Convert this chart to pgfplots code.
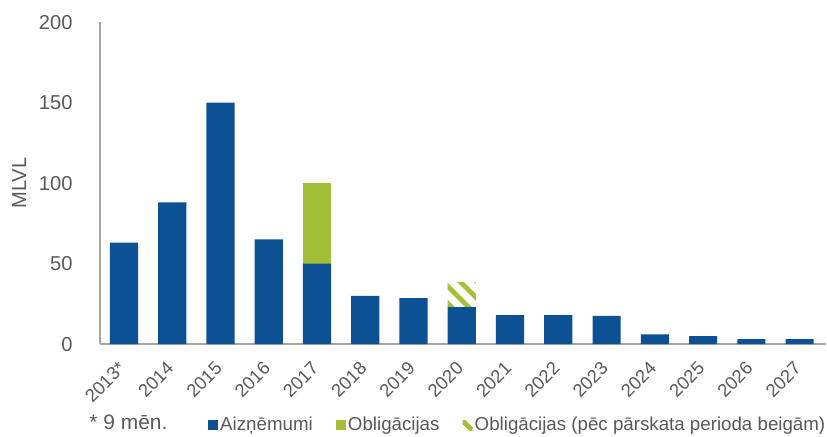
\documentclass[border=0pt]{standalone}
\usepackage{fontspec}
\setmainfont{Liberation Sans}
\usepackage{pgfplots}
\pgfplotsset{compat=1.18}
\usetikzlibrary{patterns.meta}
\definecolor{lblue}{HTML}{0B5194}
\definecolor{lgreen}{HTML}{A3BE37}
\definecolor{txtgray}{HTML}{595959}
\definecolor{axgray}{HTML}{A6A6A6}
\begin{document}
\begin{tikzpicture}[font=\fontsize{10}{12}\selectfont]
\begin{axis}[
  name=ax, clip=false,
  scale only axis, width=361pt, height=160pt,
  ybar stacked, bar width=14pt,
  xmin=-0.5, xmax=14.55, ymin=0, ymax=200,
  axis lines*=left,
  axis line style={axgray, line width=0.8pt},
  ytick={0,50,100,150,200}, xtick={0,...,14},
  xticklabels={2013*,2014,2015,2016,2017,2018,2019,2020,2021,2022,2023,2024,2025,2026,2027},
  tick label style={font=\fontsize{10}{12}\selectfont, text=txtgray},
  x tick label style={rotate=45, anchor=north east, inner sep=1pt, xshift=-6.9pt, yshift=-2.3pt,
    font=\fontsize{9.1}{11}\selectfont},
  y tick label style={xshift=-10pt},
  /pgf/number format/assume math mode=true,
  major tick length=0pt,
  ylabel={MLVL},
  y label style={at={(axis description cs:-0.111,0.5)}, anchor=center, text=txtgray},
  legend columns=3,
  legend style={at={(axis description cs:0.1486,-0.252)}, anchor=west, draw=none,
    text=txtgray, inner sep=0pt, nodes={inner sep=0.5pt},
    font=\fontsize{9.3}{11}\selectfont,
    /tikz/every odd column/.style={column sep=0.5pt},
    /tikz/every even column/.style={column sep=11pt}},
  legend image code/.code={\path[#1, draw=none] (0pt,-2.6pt) rectangle (5pt,2.4pt);},
]
\addplot[fill=lblue, draw=none] coordinates {
  (0,63) (1,88) (2,150) (3,65) (4,50) (5,30) (6,28.5) (7,23)
  (8,18) (9,18) (10,17.5) (11,6) (12,5) (13,3) (14,3)};
\addlegendentry{Aizņēmumi}
\addplot[fill=lgreen, draw=none] coordinates {
  (0,0) (1,0) (2,0) (3,0) (4,50) (5,0) (6,0) (7,0)
  (8,0) (9,0) (10,0) (11,0) (12,0) (13,0) (14,0)};
\addlegendentry{Obligācijas}
\addplot[draw=none, pattern={Lines[angle=-45, distance=6pt, line width=2.4pt]}, pattern color=lgreen] coordinates {
  (0,0) (1,0) (2,0) (3,0) (4,0) (5,0) (6,0) (7,15)
  (8,0) (9,0) (10,0) (11,0) (12,0) (13,0) (14,0)};
\addlegendentry{Obligācijas (pēc pārskata perioda beigām)}
\node[anchor=west, text=txtgray, font=\fontsize{10.4}{12}\selectfont] at (axis description cs:-0.024,-0.242) {* 9 mēn.};
\end{axis}
\path ([yshift=11pt]ax.north) ([xshift=-49.6pt]ax.west);
\end{tikzpicture}
\end{document}
